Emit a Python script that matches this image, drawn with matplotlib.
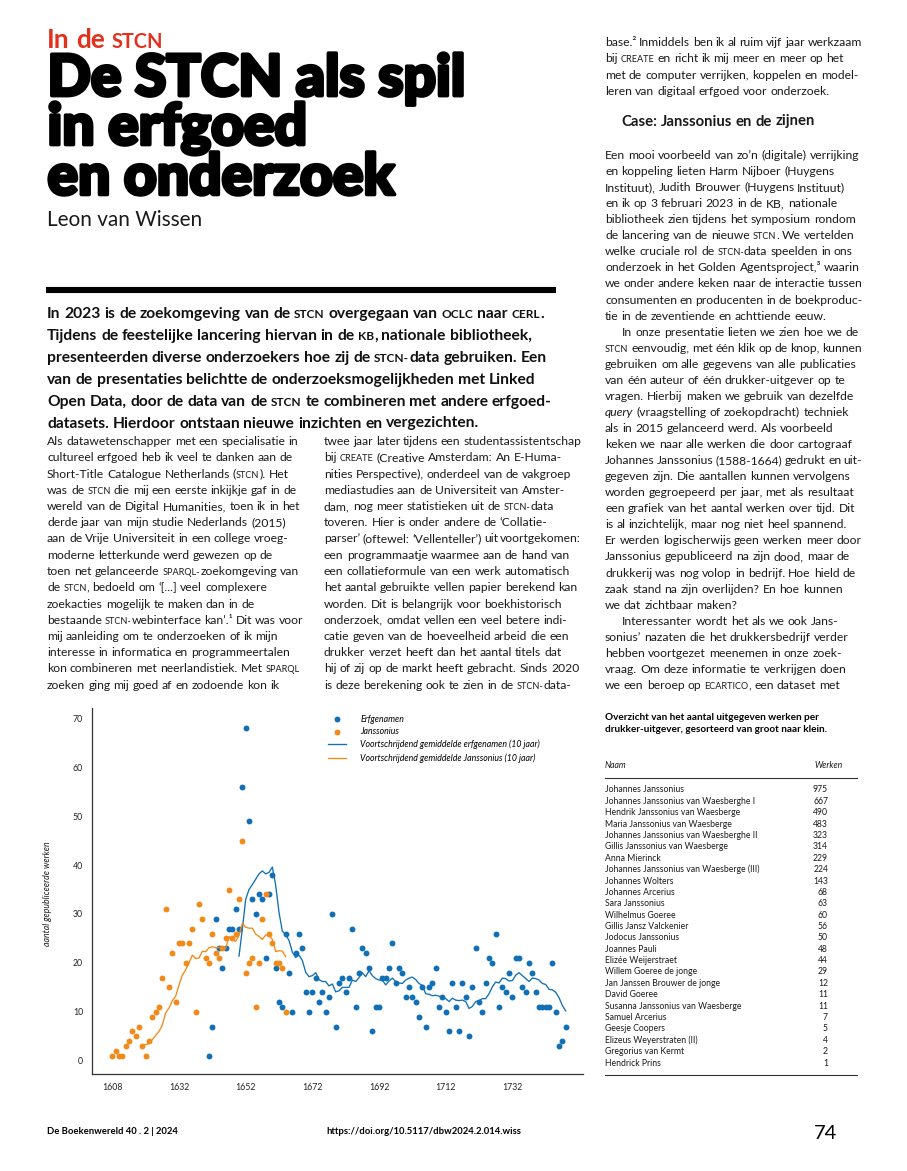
import matplotlib
matplotlib.use("Agg")
import matplotlib.pyplot as plt
from matplotlib.font_manager import FontProperties
import matplotlib.patheffects as pe
import numpy as np
import pandas as pd

W, H = 907, 1171
FONT = "Lato"
INK = "#1a1a1a"
BLUE = "#1170b5"
ORANGE = "#f28a1a"
RED = "#e2311d"

plt.rcParams["font.family"] = FONT

# --- chart data: works per year (categorical axis, a few early years are absent) ---
years = [1608, 1609, 1610, 1612, 1614, 1615, 1616, 1618, 1619, 1620,
         1621, 1622, 1624, 1625, 1626, 1627, 1628, 1629, 1630, 1631] + list(range(1632, 1749))

jans_start = 1608
janssonius = [1, 2, 1, 1, 3, 4, 6, 5, 7, 3,
              1, 4, 9, 10, 11, 17, 31, 15, 22, 12,
              24, 24, 20, 24, 27, 10, 32, 29, 21, 20,
              26, 22, 21, 23, 25, 35, 25, 26, 33, 45,
              18, 20, 21, 11, 20, 29, 34, 26, 24, 20,
              20, 19, 10]

erf_start = 1641
erfgenamen = [1, 7, 29, 23, 19, 23, 27, 27, 31, 27,
              56, 68, 49, 33, 30, 34, 33, 21, 34, 38,
              19, 12, 11, 26, 18, 10, 22, 26, 23, 14,
              10, 14, 17, 12, 14, 10, 13, 30, 7, 16,
              17, 14, 17, 27, 11, 18, 23, 22, 19, 6,
              11, 11, 17, 17, 19, 24, 16, 19, 18, 13,
              15, 13, 12, 9, 15, 7, 15, 16, 19, 11,
              13, 10, 6, 16, 11, 6, 16, 13, 5, 15,
              23, 12, 10, 16, 21, 20, 26, 11, 15, 14,
              18, 13, 21, 21, 15, 14, 20, 18, 14, 11,
              11, 11, 11, 20, 10, 3, 4, 7]

legend_labels = ["Erfgenamen", "Janssonius",
                 "Voortschrijdend gemiddelde erfgenamen (10 jaar)",
                 "Voortschrijdend gemiddelde Janssonius (10 jaar)"]

# --- table data ---
names = ["Johannes Janssonius", "Johannes Janssonius van Waesberghe I",
         "Hendrik Janssonius van Waesberge", "Maria Janssonius van Waesberge",
         "Johannes Janssonius van Waesberghe II", "Gillis Janssonius van Waesberge",
         "Anna Mierinck", "Johannes Janssonius van Waesberge (III)", "Johannes Wolters",
         "Johannes Arcerius", "Sara Janssonius", "Wilhelmus Goeree",
         "Gillis Jansz Valckenier", "Jodocus Janssonius", "Joannes Pauli",
         "Elizée Weijerstraet", "Willem Goeree de jonge", "Jan Janssen Brouwer de jonge",
         "David Goeree", "Susanna Janssonius van Waesberge", "Samuel Arcerius",
         "Geesje Coopers", "Elizeus Weyerstraten (II)", "Gregorius van Kermt",
         "Hendrick Prins"]
works = [975, 667, 490, 483, 323, 314, 229, 224, 143, 68, 63, 60, 56, 50, 48,
         44, 29, 12, 11, 11, 7, 5, 4, 2, 1]

# --- page text ({..} = small caps, *..* = italic, > = paragraph indent) ---
lead = [
    "In 2023 is de zoekomgeving van de {stcn} overgegaan van {oclc} naar {cerl}.",
    "Tijdens de feestelijke lancering hiervan in de {kb}, nationale bibliotheek,",
    "presenteerden diverse onderzoekers hoe zij de {stcn-}data gebruiken. Een",
    "van de presentaties belichtte de onderzoeksmogelijkheden met Linked",
    "Open Data, door de data van de {stcn} te combineren met andere erfgoed-",
    "datasets. Hierdoor ontstaan nieuwe inzichten en vergezichten.",
]
col1 = [
    "Als datawetenschapper met een specialisatie in",
    "cultureel erfgoed heb ik veel te danken aan de",
    "Short-Title Catalogue Netherlands ({stcn}). Het",
    "was de {stcn} die mij een eerste inkijkje gaf in de",
    "wereld van de Digital Humanities, toen ik in het",
    "derde jaar van mijn studie Nederlands (2015)",
    "aan de Vrije Universiteit in een college vroeg-",
    "moderne letterkunde werd gewezen op de",
    "toen net gelanceerde {sparql-}zoekomgeving van",
    "de {stcn}, bedoeld om ‘[...] veel complexere",
    "zoekacties mogelijk te maken dan in de",
    "bestaande {stcn-}webinterface kan’.¹ Dit was voor",
    "mij aanleiding om te onderzoeken of ik mijn",
    "interesse in informatica en programmeertalen",
    "kon combineren met neerlandistiek. Met {sparql}",
    "zoeken ging mij goed af en zodoende kon ik",
]
col2 = [
    "twee jaar later tijdens een studentassistentschap",
    "bij {create} (Creative Amsterdam: An E-Huma-",
    "nities Perspective), onderdeel van de vakgroep",
    "mediastudies aan de Universiteit van Amster-",
    "dam, nog meer statistieken uit de {stcn-}data",
    "toveren. Hier is onder andere de ‘Collatie-",
    "parser’ (oftewel: ‘Vellenteller’) uit voortgekomen:",
    "een programmaatje waarmee aan de hand van",
    "een collatieformule van een werk automatisch",
    "het aantal gebruikte vellen papier berekend kan",
    "worden. Dit is belangrijk voor boekhistorisch",
    "onderzoek, omdat vellen een veel betere indi-",
    "catie geven van de hoeveelheid arbeid die een",
    "drukker verzet heeft dan het aantal titels dat",
    "hij of zij op de markt heeft gebracht. Sinds 2020",
    "is deze berekening ook te zien in de {stcn-}data-",
]
col3a = [
    "base.² Inmiddels ben ik al ruim vijf jaar werkzaam",
    "bij {create} en richt ik mij meer en meer op het",
    "met de computer verrijken, koppelen en model-",
    "leren van digitaal erfgoed voor onderzoek.",
]
col3_head = "Case: Janssonius en de zijnen"
col3b = [
    "Een mooi voorbeeld van zo’n (digitale) verrijking",
    "en koppeling lieten Harm Nijboer (Huygens",
    "Instituut), Judith Brouwer (Huygens Instituut)",
    "en ik op 3 februari 2023 in de KB, nationale",
    "bibliotheek zien tijdens het symposium rondom",
    "de lancering van de nieuwe {stcn}. We vertelden",
    "welke cruciale rol de {stcn-}data speelden in ons",
    "onderzoek in het Golden Agentsproject,³ waarin",
    "we onder andere keken naar de interactie tussen",
    "consumenten en producenten in de boekproduc-",
    "tie in de zeventiende en achttiende eeuw.",
    ">In onze presentatie lieten we zien hoe we de",
    "{stcn} eenvoudig, met één klik op de knop, kunnen",
    "gebruiken om alle gegevens van alle publicaties",
    "van één auteur of één drukker-uitgever op te",
    "vragen. Hierbij maken we gebruik van dezelfde",
    "*query* (vraagstelling of zoekopdracht) techniek",
    "als in 2015 gelanceerd werd. Als voorbeeld",
    "keken we naar alle werken die door cartograaf",
    "Johannes Janssonius (1588-1664) gedrukt en uit-",
    "gegeven zijn. Die aantallen kunnen vervolgens",
    "worden gegroepeerd per jaar, met als resultaat",
    "een grafiek van het aantal werken over tijd. Dit",
    "is al inzichtelijk, maar nog niet heel spannend.",
    "Er werden logischerwijs geen werken meer door",
    "Janssonius gepubliceerd na zijn dood, maar de",
    "drukkerij was nog volop in bedrijf. Hoe hield de",
    "zaak stand na zijn overlijden? En hoe kunnen",
    "we dat zichtbaar maken?",
    ">Interessanter wordt het als we ook Jans-",
    "sonius’ nazaten die het drukkersbedrijf verder",
    "hebben voortgezet meenemen in onze zoek-",
    "vraag. Om deze informatie te verkrijgen doen",
    "we een beroep op {ecartico}, een dataset met",
]

fig = plt.figure(figsize=(W / 100, H / 100), dpi=100)
page = fig.add_axes([0, 0, 1, 1])
page.set_xlim(0, W)
page.set_ylim(H, 0)
page.axis("off")
renderer = fig.canvas.get_renderer()


def font(size, weight="normal", style="normal"):
    return FontProperties(family=FONT, size=size, weight=weight, style=style)


def metrics(s, prop):
    return renderer.get_text_width_height_descent(s, prop, ismath=False)


def ink(s, prop):
    return metrics(s, prop)[0]


def adv(s, prop):
    # advance width: sandwich between bars so side bearings count
    return ink("|" + s + "|", prop) - ink("||", prop)


def split_words(line):
    words, cur, style = [], [], "n"
    for ch in line:
        if ch == "{":
            style = "sc"
        elif ch == "}":
            style = "n"
        elif ch == "*":
            style = "n" if style == "it" else "it"
        elif ch == " ":
            if cur:
                words.append(cur)
            cur = []
        else:
            cur.append((ch, style))
    if cur:
        words.append(cur)
    out = []
    for w in words:
        runs = []
        for ch, st in w:
            if runs and runs[-1][1] == st:
                runs[-1][0] += ch
            else:
                runs.append([ch, st])
        out.append(runs)
    return out


def layout(line, size, weight):
    words = []
    for runs in split_words(line):
        parts = []
        for txt, st in runs:
            if st == "sc":
                txt, prop = txt.upper(), font(size * 0.76, weight)
            elif st == "it":
                prop = font(size, weight, "italic")
            else:
                prop = font(size, weight)
            parts.append((txt, prop, adv(txt, prop)))
        words.append(parts)
    space = adv(" ", font(size, weight))
    return words, space


def natural(line, size, weight="normal"):
    words, space = layout(line.lstrip(">"), size, weight)
    return sum(p[2] for w in words for p in w) + space * (len(words) - 1)


def fits(lines, width, weight="normal", base=10.0, indent=0):
    out = []
    for l in lines:
        avail = width - (indent if l.startswith(">") else 0)
        out.append(base * avail / natural(l, base, weight))
    return out


def set_line(x0, x1, y, line, size, weight="normal", color=INK):
    words, space = layout(line, size, weight)
    wsum = [sum(p[2] for p in w) for w in words]
    n = len(words)
    need = sum(wsum) + 0.8 * space * (n - 1)
    if need > x1 - x0:
        size = size * (x1 - x0) / need
        words, space = layout(line, size, weight)
        wsum = [sum(p[2] for p in w) for w in words]
    gap = space
    if n > 1:
        gap = min(space, (x1 - x0 - sum(wsum)) / (n - 1))
    x = x0
    for parts, ww in zip(words, wsum):
        xx = x
        for txt, prop, w in parts:
            page.text(xx, y, txt, fontproperties=prop, color=color,
                      va="baseline", ha="left")
            xx += w
        x += ww + gap


def set_block(lines, x0, x1, y0, step, size, weight="normal", indent=17, color=INK):
    for i, line in enumerate(lines):
        ind = line.startswith(">")
        set_line(x0 + (indent if ind else 0), x1, y0 + i * step, line.lstrip(">"),
                 size, weight, color=color)


# ---- heading ----
title_lines = ["De STCN als spil", "in erfgoed", "en onderzoek"]
stroke = 2.6
tsize = 10 * (420 - stroke * 100 / 72) / ink(title_lines[0], font(10, "black"))
tprop = font(tsize, "black")
lp_h = metrics("lp", tprop)[1]
title = page.text(47.5, 98.5 + 2 * 48, "\n".join(title_lines), fontproperties=tprop,
                  color="black", va="baseline", ha="left", linespacing=48 / lp_h,
                  path_effects=[pe.withStroke(linewidth=stroke, foreground="black")])
title_top = H - title.get_window_extent(renderer).y1

kick = min(fits(["In de {stcn}"], 116, "bold"))
kick_d = metrics("lp", font(kick, "bold"))[2]
set_line(47, 170, min(50, title_top - kick_d - 1), "In de {stcn}", kick, "bold", color=RED)

asize = 10 * 155 / ink("Leon van Wissen", font(10))
page.text(47, 226, "Leon van Wissen", fontproperties=font(asize),
          color=INK, va="baseline", ha="left")

page.plot([46, 556], [289.7, 289.7], color="black", lw=4.4, solid_capstyle="butt")

lsize = min(fits(lead, 508, "bold"))
set_block(lead, 47, 556, 318, 21.9, lsize, "bold", color="#111111")

# ---- body columns ----
cols = [(47, 303), (324, 581), (605, 862)]
body = col1 + col2 + col3a + col3b
bsize = float(np.percentile(fits(body, 256, indent=17), 12))
set_block(col1, *cols[0], 445, 16.25, bsize)
set_block(col2, *cols[1], 445, 16.25, bsize)
set_block(col3a, *cols[2], 46, 16.3, bsize)
hsize = 10 * 194 / natural(col3_head, 10, "bold")
set_line(621, cols[2][1], 125.5, col3_head, hsize, "bold")
set_block(col3b, *cols[2], 159, 16.06, bsize)

# ---- table ----
tab_title = ["Overzicht van het aantal uitgegeven werken per",
             "drukker-uitgever, gesorteerd van groot naar klein."]
ttl = min(fits(tab_title[:1], 214, "bold"))
for i, t in enumerate(tab_title):
    page.text(605, 720 + i * 11.8, t, fontproperties=font(ttl, "bold"),
              color="black", va="baseline", ha="left")
nsize = min(fits(["Johannes Janssonius van Waesberge (III)"], 153))
page.text(605, 768, "Naam", fontproperties=font(nsize, style="italic"),
          color=INK, va="baseline", ha="left")
page.text(843, 768, "Werken", fontproperties=font(nsize, style="italic"),
          color=INK, va="baseline", ha="right")
page.plot([605, 857], [777.5, 777.5], color="#333333", lw=0.8)
for i, (n, v) in enumerate(zip(names, works)):
    yy = 792.5 + i * 11.375
    page.text(605, yy, n, fontproperties=font(nsize), color=INK, va="baseline", ha="left")
    page.text(828, yy, str(v), fontproperties=font(nsize), color=INK,
              va="baseline", ha="right")
page.plot([605, 857], [1075, 1075], color="#333333", lw=0.8)

# ---- footer ----
fsize = min(fits(["De Boekenwereld 40 . 2 | 2024"], 131, "bold"))
page.text(47, 1134, "De Boekenwereld 40 . 2 | 2024", fontproperties=font(fsize, "bold"),
          color="black", va="baseline", ha="left")
page.text(326, 1134, "https://doi.org/10.5117/dbw2024.2.014.wiss",
          fontproperties=font(fsize, "bold"), color="black", va="baseline", ha="left")
page.text(814, 1139, "74", fontproperties=font(14.5), color="black",
          va="baseline", ha="left")

# ---- chart ----
ax = fig.add_axes([92 / W, 1 - 1074 / H, (582.7 - 92) / W, (1074 - 708) / H])
ax.set_facecolor("none")

df = pd.DataFrame({"year": years})
df["jans"] = np.nan
df["erf"] = np.nan
j0 = years.index(jans_start)
e0 = years.index(erf_start)
df.loc[j0:j0 + len(janssonius) - 1, "jans"] = janssonius
df.loc[e0:e0 + len(erfgenamen) - 1, "erf"] = erfgenamen
df["jans_ma"] = df["jans"].rolling(10).mean()
df["erf_ma"] = df["erf"].rolling(10).mean()
xs = np.arange(len(df))

h1 = ax.scatter(xs, df["erf"], s=18, color=BLUE, linewidths=0, label=legend_labels[0])
h2 = ax.scatter(xs, df["jans"], s=18, color=ORANGE, linewidths=0, label=legend_labels[1])
h3, = ax.plot(xs, df["erf_ma"], color=BLUE, lw=0.95, label=legend_labels[2])
h4, = ax.plot(xs, df["jans_ma"], color=ORANGE, lw=0.95, label=legend_labels[3])

ax.set_xlim(-6.1, 141.1)
ax.set_ylim(-2.7, 72.1)
ax.set_xticks(xs[::20])
ax.set_xticklabels([str(years[i]) for i in xs[::20]])
ax.set_yticks(range(0, 71, 10))
ax.tick_params(length=0, labelsize=6.3, colors="#222222")
ax.tick_params(axis="x", pad=6.5)
ax.tick_params(axis="y", pad=6.5)
for side in ["top", "right"]:
    ax.spines[side].set_visible(False)
for side in ["left", "bottom"]:
    ax.spines[side].set_color("#333333")
    ax.spines[side].set_linewidth(0.9)

ax.legend(handles=[h1, h2, h3, h4], loc="upper left",
          bbox_to_anchor=(327.7 / W, 1 - 714.5 / H), bbox_transform=fig.transFigure,
          frameon=False, prop=font(6.3, style="italic"), scatterpoints=1,
          handlelength=2.1, handletextpad=1.6, labelspacing=0.42,
          borderpad=0, borderaxespad=0)

page.text(47, 894, "aantal gepubliceerde werken", fontproperties=font(6.3, style="italic"),
          color=INK, rotation=90, ha="center", va="center")

fig.savefig("out.png", dpi=100)
